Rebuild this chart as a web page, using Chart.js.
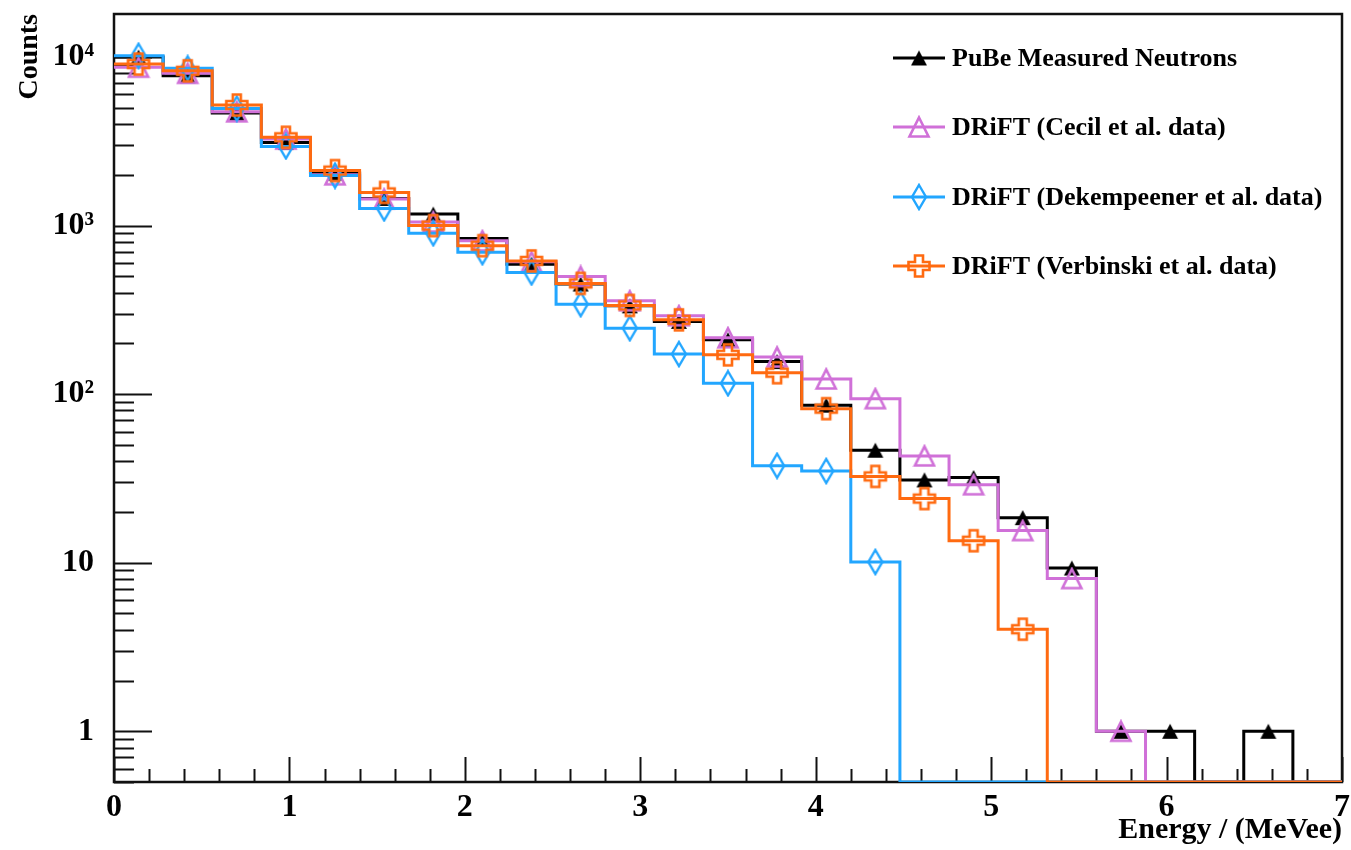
<!DOCTYPE html>
<html><head><meta charset="utf-8">
<script src="https://cdn.jsdelivr.net/npm/chart.js@4.4.0/dist/chart.umd.min.js"></script>
<style>html,body{margin:0;padding:0;background:#fff;}</style>
</head><body>
<canvas id="c" width="1351" height="850"></canvas>
<script>
// ---- data (bin centres in MeVee, counts per bin; 0 = empty bin) ----
const binCenters = [0.14,0.42,0.70,0.98,1.26,1.54,1.82,2.10,2.38,2.66,2.94,3.22,3.50,3.78,4.06,4.34,4.62,4.90,5.18,5.46,5.74,6.02,6.30,6.58,6.86];
const binWidth = 0.28;
const pubeMeasured   = [9990,7740,4650,3110,2050,1450,1170,839,590,450,334,270,210,156,86,46.5,31,32,18.5,9.3,1,1,0,1,0];
const ceciData       = [8700,8000,4730,3260,2000,1436,1050,812,610,499,358,292,216,166,123,94,43,29,15.5,8.05,1,0,0,0,0];
const dekempeenerData= [10180,8570,4950,2950,1980,1265,900,695,527,342,246,173,116,37.6,35,10.1,0,0,0,0,0,0,0,0,0];
const verbinskiData  = [9080,8290,5190,3340,2120,1574,1000,760,617,454,336,276,171,134,82,32.5,24,13.5,4.03,0,0,0,0,0,0];
const seriesNames = ['PuBe Measured Neutrons','DRiFT (Cecil et al. data)','DRiFT (Dekempeener et al. data)','DRiFT (Verbinski et al. data)'];
const xTickLabels = ['0','1','2','3','4','5','6','7'];
const yTickLabels = {'1':'1','10':'10','100':'10\u00B2','1000':'10\u00B3','10000':'10\u2074'};
const xAxisTitle = 'Energy / (MeVee)';
const yAxisTitle = 'Counts';

// ---- styles ----
const Y_MIN = 0.5, Y_MAX = 18000, X_MIN = 0, X_MAX = 7;
const colors = ['#000000','#d070d8','#22a6ff','#ff6a10'];
const SERIF = "'Liberation Serif', 'Times New Roman', serif";

function mk(w,h,draw){const c=document.createElement('canvas');c.width=w;c.height=h;const g=c.getContext('2d');draw(g);return c;}
const markers = [
  mk(18,17,g=>{g.fillStyle='#000';g.beginPath();g.moveTo(9,1);g.lineTo(17,16);g.lineTo(1,16);g.closePath();g.fill();}),
  mk(24,24,g=>{g.strokeStyle=colors[1];g.lineWidth=2.6;g.lineJoin='miter';g.beginPath();g.moveTo(12,2.5);g.lineTo(21.5,21.5);g.lineTo(2.5,21.5);g.closePath();g.stroke();}),
  mk(18,28,g=>{g.strokeStyle=colors[2];g.lineWidth=2.4;g.beginPath();g.moveTo(9,2);g.lineTo(16,14);g.lineTo(9,26);g.lineTo(2,14);g.closePath();g.stroke();}),
  mk(26,26,g=>{g.strokeStyle=colors[3];g.lineWidth=2.6;const c=13,a=4,l=10.5;g.beginPath();
    g.moveTo(c-a,c-l);g.lineTo(c+a,c-l);g.lineTo(c+a,c-a);g.lineTo(c+l,c-a);g.lineTo(c+l,c+a);g.lineTo(c+a,c+a);
    g.lineTo(c+a,c+l);g.lineTo(c-a,c+l);g.lineTo(c-a,c+a);g.lineTo(c-l,c+a);g.lineTo(c-l,c-a);g.lineTo(c-a,c-a);g.closePath();g.stroke();})
];

function histPoints(vals){
  const pts = vals.map((v,i)=>({x: binCenters[i]-binWidth/2, y: v>0 ? v : Y_MIN}));
  pts.push({x: binCenters[vals.length-1]+binWidth/2, y: vals[vals.length-1]>0 ? vals[vals.length-1] : Y_MIN});
  return pts;
}
function markerPoints(vals){
  return vals.map((v,i)=>({x: binCenters[i], y: v>0 ? v : null}));
}
const allSeries = [pubeMeasured, ceciData, dekempeenerData, verbinskiData];
const datasets = [];
allSeries.forEach((vals,k)=>{
  datasets.push({label: seriesNames[k], data: histPoints(vals), stepped: true, borderColor: colors[k],
    borderWidth: 3, pointRadius: 0, fill: false, order: 8-2*k, tension: 0});
  datasets.push({label: seriesNames[k]+' markers', data: markerPoints(vals), showLine: false,
    pointStyle: markers[k], pointRadius: 8, order: 7-2*k});
});

const rootPlugin = {
  id: 'rootStyle',
  beforeDatasetsDraw(chart){
    const {ctx, chartArea: a, scales: {x, y}} = chart;
    ctx.save();
    ctx.strokeStyle = '#111'; ctx.lineWidth = 2;
    for (let i = 0; i <= 35; i++) {
      const v = i * 0.2; const px = Math.round(x.getPixelForValue(v)) + 0.5;
      const major = i % 5 === 0; const len = major ? 25 : 13;
      ctx.beginPath(); ctx.moveTo(px, a.bottom); ctx.lineTo(px, a.bottom - len); ctx.stroke();
    }
    for (let e = -1; e <= 4; e++) {
      for (let m = 1; m <= 9; m++) {
        const v = m * Math.pow(10, e);
        if (v < Y_MIN || v > Y_MAX) continue;
        const py = Math.round(y.getPixelForValue(v)) + 0.5;
        const len = m === 1 ? 38 : 20;
        ctx.beginPath(); ctx.moveTo(a.left, py); ctx.lineTo(a.left + len, py); ctx.stroke();
      }
    }
    ctx.lineWidth = 2.5; ctx.strokeStyle = '#111';
    ctx.strokeRect(a.left, a.top, a.right - a.left, a.bottom - a.top);
    ctx.restore();
  },
  afterDraw(chart){
    const ctx = chart.ctx;
    const rows = [58, 127, 197, 266];
    ctx.save();
    ctx.font = 'bold 26px ' + SERIF;
    ctx.textBaseline = 'middle'; ctx.textAlign = 'left';
    seriesNames.forEach((name, k) => {
      const yy = rows[k];
      ctx.strokeStyle = colors[k]; ctx.lineWidth = 3;
      ctx.beginPath(); ctx.moveTo(893, yy); ctx.lineTo(945, yy); ctx.stroke();
      const m = markers[k];
      ctx.drawImage(m, 919 - m.width/2, yy - m.height/2);
      ctx.fillStyle = '#000';
      ctx.fillText(name, 952, yy + 1);
    });
    ctx.restore();
  }
};

new Chart(document.getElementById('c'), {
  type: 'line',
  data: { datasets },
  options: {
    responsive: false, animation: false, devicePixelRatio: 1,
    layout: { padding: { top: 14, right: 9, left: 0, bottom: 0 } },
    plugins: { legend: { display: false }, tooltip: { enabled: false } },
    scales: {
      x: {
        type: 'linear', min: X_MIN, max: X_MAX,
        grid: { display: false }, border: { display: false },
        ticks: { stepSize: 1, autoSkip: false, maxRotation: 0, padding: 0, color: '#000',
          font: { family: SERIF, size: 32, weight: 'bold', lineHeight: 1.1 },
          callback: v => (Number.isInteger(v) ? xTickLabels[v] : '') },
        title: { display: true, text: xAxisTitle, align: 'end', color: '#000',
          font: { family: SERIF, size: 30, weight: 'bold' }, padding: { top: 0, bottom: 2 } },
        afterFit: s => { s.height = 68; s.paddingLeft = 0; s.paddingRight = 0; }
      },
      y: {
        type: 'logarithmic', min: Y_MIN, max: Y_MAX,
        grid: { display: false }, border: { display: false },
        ticks: { autoSkip: false, padding: 12, color: '#000',
          font: { family: SERIF, size: 32, weight: 'bold' },
          callback: v => (yTickLabels[String(v)] ?? '') },
        title: { display: true, text: yAxisTitle, align: 'end', color: '#000',
          font: { family: SERIF, size: 28, weight: 'bold' }, padding: { top: 13, bottom: 0 } },
        afterFit: s => { s.width = 114; s.paddingTop = 0; s.paddingBottom = 0; }
      }
    }
  },
  plugins: [rootPlugin]
});
</script>
</body></html>
